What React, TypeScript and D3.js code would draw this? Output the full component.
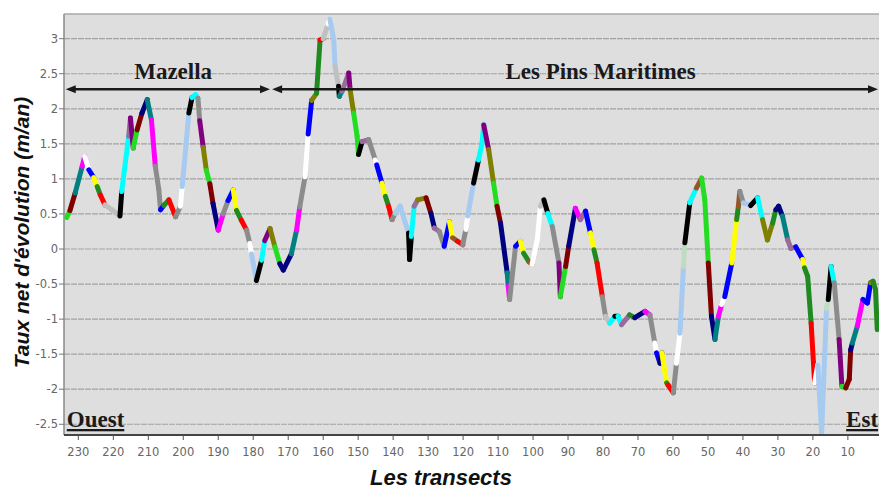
import * as d3 from 'd3'

const WIDTH = 879
const HEIGHT = 489
const MARGIN = { left: 64, top: 14, right: 0, bottom: 54 }

const PALETTE: Record<string, string> = {
  G: '#22dd22',
  DG: '#1f8a1f',
  DR: '#800000',
  TE: '#008080',
  MA: '#ff00ff',
  WH: '#ffffff',
  BL: '#0000ff',
  YE: '#ffff00',
  RE: '#ff0000',
  GR: '#8c8c8c',
  LG: '#c0c0c0',
  BK: '#000000',
  CY: '#00ffff',
  PL: '#9a6a9a',
  PU: '#800080',
  OL: '#808000',
  NA: '#000080',
  LB: '#a6caf0',
  BR: '#99552a',
  MG: '#c0dcc0',
}

// transect number, net rate (m/an), colour of the segment ending at that point
const transects = [
  233.3, 232.4, 230.9, 228.9, 228.2, 227.0, 225.6, 224.6, 223.7, 222.4,
  220.4, 218.1, 217.6, 215.6, 215.1, 214.3, 213.2, 211.8, 210.3, 209.1,
  208.0, 207.0, 206.5, 205.6, 204.1, 202.2, 200.8, 200.3, 198.4, 197.5,
  196.5, 195.8, 195.3, 194.3, 193.4, 192.4, 191.5, 190.0, 188.6, 187.2,
  185.7, 184.8, 183.4, 181.9, 181.0, 180.5, 179.1, 177.6, 176.7, 175.2,
  173.8, 172.4, 171.4, 169.1, 167.6, 166.7, 165.2, 164.3, 163.3, 161.9,
  160.9, 160.0, 158.6, 158.1, 157.0, 156.6, 155.6, 155.4, 154.6, 152.7,
  152.3, 151.3, 150.3, 149.9, 148.9, 147.0, 145.1, 144.7, 143.2, 142.2,
  141.3, 140.3, 139.4, 138.0, 135.6, 135.3, 134.8, 134.0, 133.0, 130.6,
  129.2, 128.2, 126.8, 125.4, 123.9, 123.0, 121.6, 120.1, 119.2, 118.7,
  117.0, 115.6, 114.6, 114.1, 112.7, 111.3, 110.3, 109.3, 107.4, 107.1,
  106.7, 105.0, 103.6, 102.7, 101.2, 100.3, 98.8, 97.9, 96.9, 95.8,
  94.5, 92.6, 92.2, 90.7, 89.8, 87.9, 86.5, 85.0, 83.6, 82.6,
  81.7, 80.2, 79.3, 78.1, 76.6, 75.7, 74.7, 72.4, 70.9, 68.0,
  66.6, 65.2, 64.7, 63.7, 63.2, 61.8, 61.4, 59.9, 59.0, 58.0,
  57.0, 56.6, 55.2, 53.3, 51.8, 50.9, 49.9, 49.0, 48.0, 47.0,
  46.1, 45.2, 43.2, 41.8, 41.3, 40.9, 39.9, 37.8, 35.8, 34.4,
  33.0, 31.5, 30.6, 29.8, 28.7, 27.2, 26.3, 24.9, 22.9, 22.4,
  21.5, 20.5, 19.5, 18.6, 17.5, 16.1, 15.6, 14.8, 13.9, 12.5,
  11.7, 10.6, 9.6, 9.2, 8.7, 7.3, 5.7, 4.4, 3.5, 2.8,
  2.1, 1.6,
]

const rates = [
  0.45, 0.55, 0.8, 1.18, 1.32, 1.13, 1.02, 0.89, 0.77, 0.63,
  0.56, 0.47, 0.82, 1.61, 1.87, 1.44, 1.7, 1.94, 2.13, 1.84,
  1.18, 0.85, 0.56, 0.62, 0.7, 0.46, 0.61, 0.89, 1.94, 2.16,
  2.2, 2.15, 1.83, 1.45, 1.12, 0.93, 0.65, 0.27, 0.5, 0.69,
  0.84, 0.55, 0.41, 0.27, 0.08, -0.07, -0.45, -0.16, 0.12, 0.29,
  0.03, -0.21, -0.3, -0.07, 0.27, 0.6, 1.03, 1.64, 2.12, 2.22,
  2.98, 3.0, 3.21, 3.28, 2.99, 2.6, 2.32, 2.18, 2.25, 2.51,
  2.27, 1.94, 1.61, 1.35, 1.53, 1.56, 1.27, 1.2, 0.94, 0.75,
  0.61, 0.42, 0.51, 0.61, 0.23, -0.15, 0.18, 0.61, 0.7, 0.73,
  0.51, 0.3, 0.25, 0.04, 0.39, 0.16, 0.11, 0.06, 0.28, 0.47,
  0.94, 1.27, 1.51, 1.77, 1.42, 0.94, 0.61, 0.37, -0.34, -0.53,
  -0.72, 0.04, 0.11, -0.06, -0.18, -0.22, 0.13, 0.61, 0.7, 0.51,
  0.32, -0.2, -0.68, -0.25, 0.04, 0.58, 0.42, 0.54, 0.23, -0.01,
  -0.2, -0.68, -0.96, -1.06, -0.96, -0.96, -1.08, -0.94, -0.98, -0.89,
  -0.94, -1.34, -1.48, -1.63, -1.48, -1.91, -1.94, -2.05, -1.63, -1.2,
  -0.25, 0.09, 0.66, 0.87, 1.01, 0.7, -0.2, -0.96, -1.29, -0.96,
  -0.79, -0.68, -0.2, 0.42, 0.61, 0.82, 0.66, 0.62, 0.73, 0.42,
  0.13, 0.37, 0.56, 0.61, 0.47, 0.13, 0.01, 0.03, -0.15, -0.27,
  -0.39, -1.06, -1.91, -1.65, -2.62, -0.85, -0.72, -0.25, -0.48, -1.29,
  -1.96, -1.98, -1.86, -1.44, -1.34, -1.1, -0.72, -0.77, -0.48, -0.46,
  -0.58, -1.15,
]

const colours = [
  'G', 'G', 'DR', 'TE', 'MA', 'WH', 'BL', 'YE', 'DG', 'RE',
  'LG', 'LG', 'BK', 'CY', 'PL', 'PU', 'G', 'DR', 'NA', 'TE',
  'MA', 'GR', 'GR', 'BL', 'DG', 'RE', 'GR', 'WH', 'LB', 'BK',
  'CY', 'CY', 'GR', 'PU', 'OL', 'G', 'DR', 'NA', 'MA', 'GR',
  'BL', 'YE', 'DG', 'RE', 'GR', 'WH', 'LB', 'BK', 'CY', 'PU',
  'OL', 'G', 'NA', 'NA', 'TE', 'MA', 'GR', 'WH', 'BL', 'OL',
  'DG', 'RE', 'LG', 'WH', 'LB', 'LB', 'LG', 'BK', 'TE', 'PL',
  'PU', 'OL', 'G', 'G', 'BK', 'PL', 'GR', 'WH', 'BL', 'YE',
  'DG', 'RE', 'GR', 'LB', 'LB', 'BK', 'BK', 'CY', 'PL', 'OL',
  'DR', 'NA', 'PL', 'GR', 'BL', 'YE', 'BR', 'RE', 'GR', 'WH',
  'LB', 'BK', 'CY', 'CY', 'PU', 'OL', 'G', 'DR', 'NA', 'TE',
  'MA', 'GR', 'BL', 'YE', 'DG', 'BR', 'WH', 'WH', 'LG', 'BK',
  'CY', 'GR', 'PU', 'G', 'DR', 'NA', 'MA', 'PL', 'BL', 'YE',
  'DG', 'RE', 'GR', 'LG', 'CY', 'BK', 'CY', 'PL', 'DG', 'NA',
  'MA', 'GR', 'WH', 'BL', 'NA', 'YE', 'DG', 'RE', 'GR', 'WH',
  'LB', 'MG', 'BK', 'CY', 'BR', 'G', 'G', 'DR', 'NA', 'TE',
  'MA', 'WH', 'BL', 'YE', 'DG', 'BR', 'GR', 'LB', 'BK', 'CY',
  'OL', 'OL', 'DG', 'NA', 'NA', 'TE', 'PL', 'PL', 'BL', 'YE',
  'DG', 'DG', 'RE', 'WH', 'LB', 'LB', 'MG', 'BK', 'CY', 'GR',
  'PU', 'G', 'DR', 'DR', 'NA', 'TE', 'MA', 'BL', 'BL', 'OL',
  'DG', 'DG',
]

const yTicks = [-2.5, -2, -1.5, -1, -0.5, 0, 0.5, 1, 1.5, 2, 2.5, 3]
const xTicks = [230, 220, 210, 200, 190, 180, 170, 160, 150, 140, 130, 120, 110, 100, 90, 80, 70, 60, 50, 40, 30, 20, 10]

// zones along the coast (transect ranges), drawn as arrows
const zoneNames = ['Mazella', 'Les Pins Maritimes']
const zoneStart = [233.6, 174.6]
const zoneEnd = [175.2, 1.1]
const zoneLabelAt = [202.9, 80.7]
const ARROW_LEVEL = 2.28

export default function App() {
  const x = d3.scaleLinear().domain([234.1, 1.1]).range([MARGIN.left, WIDTH - MARGIN.right])
  const y = d3.scaleLinear().domain([-2.653, 3.352]).range([HEIGHT - MARGIN.bottom, MARGIN.top])
  const [x0, x1] = x.range()
  const [yb, yt] = y.range()

  const pts = transects.map((t, i) => [t, rates[i]] as [number, number])
  const line = d3.line<[number, number]>().x((d) => x(d[0])).y((d) => y(d[1]))

  const ay = y(ARROW_LEVEL)
  const head = (tip: number, dir: number) =>
    `M${tip},${ay} L${tip - dir * 10},${ay - 4} L${tip - dir * 10},${ay + 4} Z`

  return (
    <svg width={WIDTH} height={HEIGHT} style={{ position: 'absolute', left: 0, top: 0, background: '#fff' }}>
      <defs>
        <clipPath id="plot">
          <rect x={x0} y={yt} width={x1 - x0} height={yb - yt} />
        </clipPath>
      </defs>
      <rect x={x0} y={yt} width={x1 - x0} height={yb - yt} fill="#dedede" />
      {yTicks.map((v) => (
        <line key={v} x1={x0} x2={x1} y1={y(v)} y2={y(v)} stroke="#a2a2a2" strokeWidth={1.2} strokeDasharray="6 1" />
      ))}
      <line x1={x0} x2={x1} y1={yt} y2={yt} stroke="#a8a8a8" strokeWidth={1.5} />
      <line x1={x0} x2={x0} y1={yt} y2={yb} stroke="#8a8a8a" strokeWidth={1.5} />

      <g clipPath="url(#plot)">
        {pts.slice(1).map((p, i) => (
          <path
            key={i}
            d={line([pts[i], p]) ?? ''}
            stroke={PALETTE[colours[i + 1]]}
            strokeWidth={5}
            strokeLinecap="round"
            fill="none"
          />
        ))}
      </g>

      {zoneNames.map((name, i) => {
        const a = x(zoneStart[i])
        const b = Math.min(x(zoneEnd[i]), WIDTH - 1)
        return (
          <g key={name}>
            <line x1={a + 4} x2={b - 4} y1={ay} y2={ay} stroke="#1a1a1a" strokeWidth={2.5} />
            <path d={head(a, -1)} fill="#1a1a1a" />
            <path d={head(b, 1)} fill="#1a1a1a" />
            <text
              x={x(zoneLabelAt[i])}
              y={ay - 10}
              textAnchor="middle"
              fontFamily="'Liberation Serif', serif"
              fontWeight="bold"
              fontSize={23}
              fill="#1a1a1a"
            >
              {name}
            </text>
          </g>
        )
      })}

      <text x={x(233.3)} y={427} fontFamily="'Liberation Serif', serif" fontWeight="bold" fontSize={23} fill="#1a1a1a" textDecoration="underline">
        Ouest
      </text>
      <text x={x(10.5)} y={427} fontFamily="'Liberation Serif', serif" fontWeight="bold" fontSize={23} fill="#1a1a1a" textDecoration="underline">
        Est
      </text>

      <line x1={x0} x2={x1} y1={yb} y2={yb} stroke="#444" strokeWidth={2} />
      {yTicks.map((v) => (
        <g key={v}>
          <line x1={x0 - 5} x2={x0} y1={y(v)} y2={y(v)} stroke="#777" />
          <text x={x0 - 6} y={y(v) + 4} textAnchor="end" fontFamily="'DejaVu Sans', sans-serif" fontSize={11.5} fill="#666">
            {v}
          </text>
        </g>
      ))}
      {xTicks.map((t) => (
        <g key={t}>
          <line x1={x(t)} x2={x(t)} y1={yb} y2={yb + 5} stroke="#555" />
          <text x={x(t)} y={yb + 21} textAnchor="middle" fontFamily="'DejaVu Sans', sans-serif" fontSize={11.5} fill="#666">
            {t}
          </text>
        </g>
      ))}

      <text
        transform={`translate(29,${(yt + yb) / 2 + 8}) rotate(-90)`}
        textAnchor="middle"
        fontFamily="'Liberation Sans', Arial, sans-serif"
        fontWeight="bold"
        fontStyle="italic"
        fontSize={21}
        fill="#111"
      >
        Taux net d'évolution (m/an)
      </text>
      <text
        x={441}
        y={485}
        textAnchor="middle"
        fontFamily="'Liberation Sans', Arial, sans-serif"
        fontWeight="bold"
        fontStyle="italic"
        fontSize={22}
        fill="#111"
      >
        Les transects
      </text>
    </svg>
  )
}
